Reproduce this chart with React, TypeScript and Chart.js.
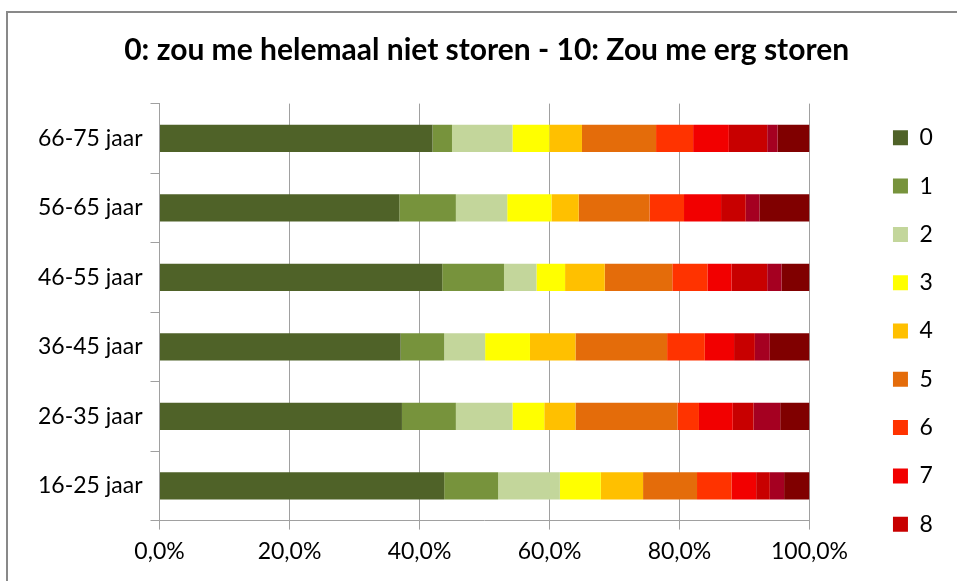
import React, { useEffect, useRef } from 'react';
import { Chart, registerables } from 'chart.js';

Chart.register(...registerables);

const titleText = '0: zou me helemaal niet storen - 10: Zou me erg storen';
const categories = ['66-75 jaar', '56-65 jaar', '46-55 jaar', '36-45 jaar', '26-35 jaar', '16-25 jaar'];
const seriesNames = ['0', '1', '2', '3', '4', '5', '6', '7', '8', '9', '10'];

const score0 = [42.0, 36.9, 43.5, 37.1, 37.3, 43.8];
const score1 = [3.0, 8.7, 9.5, 6.7, 8.3, 8.3];
const score2 = [9.3, 7.9, 5.0, 6.3, 8.7, 9.5];
const score3 = [5.7, 6.8, 4.4, 6.9, 4.9, 6.3];
const score4 = [5.0, 4.2, 6.1, 7.0, 4.8, 6.5];
const score5 = [11.4, 10.9, 10.4, 14.1, 15.7, 8.3];
const score6 = [5.7, 5.3, 5.4, 5.8, 3.3, 5.3];
const score7 = [5.5, 5.7, 3.7, 4.5, 5.2, 3.8];
const score8 = [5.9, 3.8, 5.5, 3.2, 3.2, 2.1];
const score9 = [1.6, 2.1, 2.2, 2.3, 4.1, 2.2];
const score10 = [4.9, 7.7, 4.3, 6.1, 4.5, 3.9];
const seriesValues = [score0, score1, score2, score3, score4, score5, score6, score7, score8, score9, score10];

const seriesColors = ['#4F6228', '#77933C', '#C3D69B', '#FFFF00', '#FFC000', '#E46C0A', '#FF3300', '#F20000', '#C80000', '#A50021', '#800000'];

// legend entries visible in the (cropped) original
const legendShown = 9;

const xMin = 0;
const xMax = 100;
const xStep = 20;

const FONT = 'Lato, "Open Sans", sans-serif';

export default function App() {
  const ref = useRef<HTMLCanvasElement | null>(null);
  useEffect(() => {
    if (!ref.current) return;
    const chart = new Chart(ref.current, {
      type: 'bar',
      data: {
        labels: categories,
        datasets: seriesNames.map((name, i) => ({
          label: name,
          data: seriesValues[i],
          backgroundColor: seriesColors[i],
          borderWidth: 0,
          categoryPercentage: 1,
          barPercentage: 0.394,
        })),
      },
      options: {
        indexAxis: 'y',
        responsive: false,
        animation: false,
        layout: { padding: { left: 22.5, right: 14.2, top: 0, bottom: 0 } },
        plugins: {
          tooltip: { enabled: false },
          title: {
            display: true,
            text: titleText,
            color: '#000',
            font: { family: FONT, size: 30, weight: 'bold' },
            padding: { top: 19, bottom: 35.6 },
          },
          legend: {
            position: 'right',
            align: 'center',
            labels: {
              boxWidth: 15,
              boxHeight: 15,
              padding: 25.3,
              color: '#000',
              font: { family: FONT, size: 23 },
              filter: (item: any) => item.datasetIndex < legendShown,
            },
          },
        },
        scales: {
          x: {
            stacked: true,
            min: xMin,
            max: xMax,
            ticks: {
              stepSize: xStep,
              padding: 8,
              color: '#000',
              font: { family: FONT, size: 23 },
              callback: (v: any) => Number(v).toFixed(1).replace('.', ',') + '%',
            },
            grid: { color: '#a0a0a0', lineWidth: 1, tickLength: 9, tickColor: '#a0a0a0' },
            border: { display: true, color: '#a0a0a0', width: 1 },
            afterFit: (s: any) => { s.height = 128.4; },
          },
          y: {
            stacked: true,
            ticks: {
              padding: 8,
              color: '#000',
              font: { family: FONT, size: 23 },
            },
            grid: { drawOnChartArea: false, drawTicks: true, tickLength: 9, color: '#a0a0a0', offset: true },
            border: { display: true, color: '#a0a0a0', width: 1 },
            afterFit: (s: any) => { s.width = 129; },
          },
          gap: {
            type: 'category',
            position: 'right',
            display: true,
            grid: { display: false },
            border: { display: false },
            ticks: { display: false },
            afterFit: (s: any) => { s.width = 58.2; },
          } as any,
        },
      },
    });
    return () => chart.destroy();
  }, []);

  return (
    <div style={{ position: 'fixed', left: 0, top: 0, width: 957, height: 581, overflow: 'hidden', background: '#fff' }}>
      <div
        style={{
          position: 'absolute',
          left: 6,
          top: 11,
          width: 1000,
          height: 800,
          borderLeft: '2px solid #898989',
          borderTop: '2px solid #898989',
          boxSizing: 'border-box',
        }}
      >
        <canvas ref={ref} width={949} height={636} style={{ display: 'block' }} />
      </div>
    </div>
  );
}
